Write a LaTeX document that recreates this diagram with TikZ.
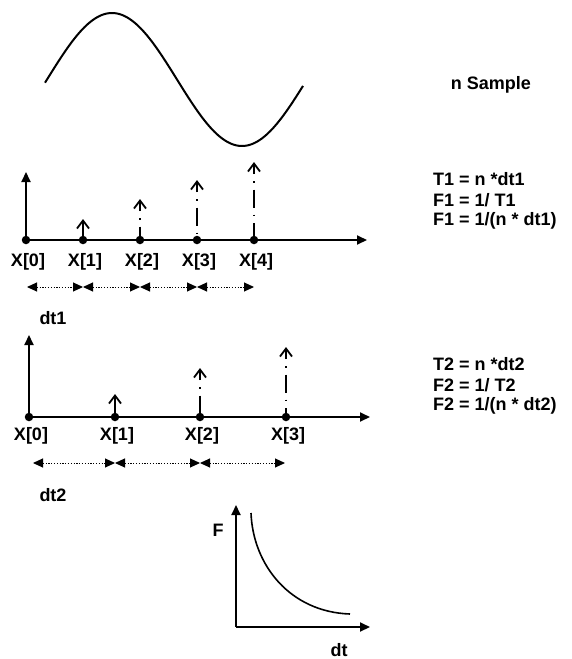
\documentclass[tikz,border=0pt]{standalone}
\usepackage{fontspec}
\setmainfont{Liberation Sans}
\usetikzlibrary{arrows.meta}
\begin{document}
\begin{tikzpicture}[x=1pt,y=-1pt,
  lbl/.style={font=\fontsize{18}{21}\selectfont\bfseries, inner sep=0pt},
  axis/.style={line width=2pt, -{Triangle[length=10pt,width=9pt]}},
  sdot/.style={circle, fill=black, inner sep=0pt, minimum size=8.5pt},
  stemline/.style={line width=1.8pt, dash pattern=on 1.5pt off 7pt on 18pt off 7pt, dash phase=26.5pt},
  stemhead/.style={line width=1.8pt, -{Straight Barb[length=8pt,width=12pt,line width=1.8pt]}},
  span/.style={line width=1pt, dash pattern=on 1.2pt off 1.6pt,
    {Triangle[length=10pt,width=9pt]}-{Triangle[length=10pt,width=9pt]}},
]
\useasboundingbox (0,0) rectangle (571,659);

% sine wave
\draw[line width=2pt] plot[domain=45:303, samples=120, smooth] (\x, {79.5 - 66.5*sin((\x-47)/260*360)});
\node[lbl] (ns) at (491,85) {n Sample};

% ---------- first sampling ----------
\coordinate (o1) at (26,240);
\coordinate (y1) at (26,172);
\coordinate (x1) at (367,240);
\draw[axis] (o1) -- (y1);
\draw[axis] (o1) -- (x1);
\node[sdot] (a0) at (26,240) {};
\node[sdot] (a1) at (83,240) {};
\node[sdot] (a2) at (140,240) {};
\node[sdot] (a3) at (197,240) {};
\node[sdot] (a4) at (254,240) {};
\coordinate (ta1) at (83,219);  \coordinate (ha1) at (83,231);
\coordinate (ta2) at (140,199); \coordinate (ha2) at (140,211);
\coordinate (ta3) at (197,180); \coordinate (ha3) at (197,192);
\coordinate (ta4) at (254,162); \coordinate (ha4) at (254,174);
\draw[stemhead] (a1) -- (ta1);
\draw[stemline] (ha2) -- (a2);
\draw[stemhead] (ha2) -- (ta2);
\draw[stemline] (ha3) -- (a3);
\draw[stemhead] (ha3) -- (ta3);
\draw[stemline] (ha4) -- (a4);
\draw[stemhead] (ha4) -- (ta4);
\node[lbl] (la0) at (28,262) {X[0]};
\node[lbl] (la1) at (85,262) {X[1]};
\node[lbl] (la2) at (142,262) {X[2]};
\node[lbl] (la3) at (199,262) {X[3]};
\node[lbl] (la4) at (256,262) {X[4]};
\coordinate (sa0) at (27,287);
\coordinate (sa1) at (83,287);
\coordinate (sa2) at (140,287);
\coordinate (sa3) at (197,287);
\coordinate (sa4) at (254,287);
\draw[span] (sa0) -- (sa1);
\draw[span] (sa1) -- (sa2);
\draw[span] (sa2) -- (sa3);
\draw[span] (sa3) -- (sa4);
\node[lbl] (dt1) at (53,318) {dt1};
\node[lbl, anchor=west] (t1) at (433,179) {T1 = n *dt1};
\node[lbl, anchor=west] (f1a) at (433,200) {F1 = 1/ T1};
\node[lbl, anchor=west] (f1b) at (433,221) {F1 = 1/(n * dt1)};

% ---------- second sampling ----------
\coordinate (o2) at (29,417);
\coordinate (y2) at (29,335);
\coordinate (x2) at (370,417);
\draw[axis] (o2) -- (y2);
\draw[axis] (o2) -- (x2);
\node[sdot] (b0) at (29,417) {};
\node[sdot] (b1) at (115,417) {};
\node[sdot] (b2) at (200,417) {};
\node[sdot] (b3) at (286,417) {};
\coordinate (tb1) at (115,394); \coordinate (hb1) at (115,406);
\coordinate (tb2) at (200,368); \coordinate (hb2) at (200,380);
\coordinate (tb3) at (286,347); \coordinate (hb3) at (286,359);
\draw[stemhead] (b1) -- (tb1);
\draw[stemline] (hb2) -- (b2);
\draw[stemhead] (hb2) -- (tb2);
\draw[stemline] (hb3) -- (b3);
\draw[stemhead] (hb3) -- (tb3);
\node[lbl] (lb0) at (31,436) {X[0]};
\node[lbl] (lb1) at (117,436) {X[1]};
\node[lbl] (lb2) at (202,436) {X[2]};
\node[lbl] (lb3) at (288,436) {X[3]};
\coordinate (sb0) at (33,463);
\coordinate (sb1) at (115,463);
\coordinate (sb2) at (200,463);
\coordinate (sb3) at (285,463);
\draw[span] (sb0) -- (sb1);
\draw[span] (sb1) -- (sb2);
\draw[span] (sb2) -- (sb3);
\node[lbl] (dt2) at (53,495) {dt2};
\node[lbl, anchor=west] (t2) at (433,364) {T2 = n *dt2};
\node[lbl, anchor=west] (f2a) at (433,385) {F2 = 1/ T2};
\node[lbl, anchor=west] (f2b) at (433,406) {F2 = 1/(n * dt2)};

% ---------- F vs dt ----------
\coordinate (o3) at (236,627);
\coordinate (y3) at (236,505);
\coordinate (x3) at (370,627);
\draw[axis] (o3) -- (y3);
\draw[axis] (o3) -- (x3);
\coordinate (c0) at (251,513);
\coordinate (c1) at (350,614);
\draw[line width=1.6pt] (c0) .. controls (253,565) and (290,612) .. (c1);
\node[lbl] (F) at (218,530) {F};
\node[lbl] (dt) at (339,650) {dt};
\end{tikzpicture}
\end{document}
